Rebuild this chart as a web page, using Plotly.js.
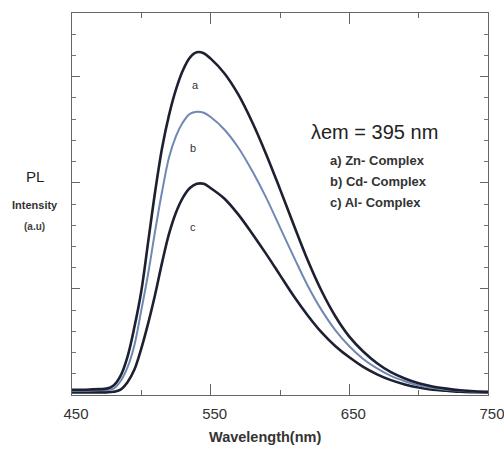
<!DOCTYPE html>
<html>
<head>
<meta charset="utf-8">
<script src="https://cdn.plot.ly/plotly-3.0.1.min.js"></script>
<style>html,body{margin:0;padding:0;background:#fff;}#chart{width:504px;height:452px;}</style>
</head>
<body>
<div id="chart"></div>
<script>
// Wavelength (nm)
var wavelength = [450, 460, 470, 475, 480, 485, 490, 495, 500, 505, 510, 515, 520, 525, 530, 535, 540, 545, 550, 560, 570, 580, 590, 600, 610, 620, 630, 640, 650, 660, 670, 680, 690, 700, 710, 720, 730, 740, 750];
// a) Zn- Complex
var znComplex = [0.05, 0.05, 0.055, 0.06, 0.09, 0.18, 0.36, 0.64, 0.98, 1.45, 1.92, 2.33, 2.64, 2.88, 3.06, 3.18, 3.23, 3.22, 3.17, 3.03, 2.83, 2.57, 2.27, 1.94, 1.60, 1.27, 0.98, 0.74, 0.55, 0.41, 0.30, 0.215, 0.155, 0.11, 0.08, 0.06, 0.045, 0.035, 0.03];
// b) Cd- Complex
var cdComplex = [0.04, 0.04, 0.045, 0.045, 0.06, 0.13, 0.26, 0.47, 0.80, 1.15, 1.55, 1.92, 2.24, 2.44, 2.57, 2.65, 2.67, 2.66, 2.62, 2.50, 2.33, 2.11, 1.86, 1.58, 1.30, 1.03, 0.80, 0.61, 0.46, 0.34, 0.25, 0.18, 0.13, 0.09, 0.065, 0.05, 0.04, 0.033, 0.03];
// c) Al- Complex
var alComplex = [0.025, 0.025, 0.025, 0.025, 0.03, 0.05, 0.12, 0.24, 0.44, 0.68, 0.95, 1.25, 1.52, 1.72, 1.86, 1.95, 1.99, 1.99, 1.95, 1.85, 1.70, 1.52, 1.33, 1.13, 0.93, 0.75, 0.59, 0.46, 0.355, 0.265, 0.195, 0.14, 0.10, 0.07, 0.05, 0.04, 0.03, 0.027, 0.025];
var curveLabels = ['a', 'b', 'c'];
var legendLines = ['a) Zn- Complex', 'b) Cd- Complex', 'c) Al- Complex'];
var xTickVals = [450, 550, 650, 750];
var xTickText = ['450', '550', '650', '750'];

var dark = '#1c2030';
var traces = [
  {x: wavelength, y: alComplex, mode: 'lines', line: {color: dark, width: 2.6, shape: 'spline', smoothing: 1}, name: legendLines[2]},
  {x: wavelength, y: cdComplex, mode: 'lines', line: {color: '#7088b4', width: 2, shape: 'spline', smoothing: 1}, name: legendLines[1]},
  {x: wavelength, y: znComplex, mode: 'lines', line: {color: dark, width: 2.6, shape: 'spline', smoothing: 1}, name: legendLines[0]}
];

var labelFont = {family: 'Liberation Sans, Arial, sans-serif', size: 11, color: '#333'};
var legendFont = {family: 'Liberation Sans, Arial, sans-serif', size: 13, color: '#333'};
var annotations = [
  {x: 538.7, y: 2.92, xref: 'x', yref: 'y', text: curveLabels[0], showarrow: false, font: labelFont},
  {x: 537.5, y: 2.33, xref: 'x', yref: 'y', text: curveLabels[1], showarrow: false, font: labelFont},
  {x: 537.5, y: 1.58, xref: 'x', yref: 'y', text: curveLabels[2], showarrow: false, font: labelFont},
  {x: 0.728, y: 0.688, xref: 'paper', yref: 'paper', xanchor: 'center', yanchor: 'middle', text: 'λem = 395 nm', showarrow: false,
   font: {family: 'Liberation Sans, Arial, sans-serif', size: 20, color: '#222'}},
  {x: 0.615, y: 0.615, xref: 'paper', yref: 'paper', xanchor: 'left', yanchor: 'middle', text: '<b>' + legendLines[0] + '</b>', showarrow: false, font: legendFont},
  {x: 0.615, y: 0.560, xref: 'paper', yref: 'paper', xanchor: 'left', yanchor: 'middle', text: '<b>' + legendLines[1] + '</b>', showarrow: false, font: legendFont},
  {x: 0.615, y: 0.503, xref: 'paper', yref: 'paper', xanchor: 'left', yanchor: 'middle', text: '<b>' + legendLines[2] + '</b>', showarrow: false, font: legendFont},
  {x: -0.089, y: 0.571, xref: 'paper', yref: 'paper', xanchor: 'center', yanchor: 'middle', text: 'PL', showarrow: false,
   font: {family: 'Liberation Sans, Arial, sans-serif', size: 15, color: '#222'}},
  {x: -0.089, y: 0.497, xref: 'paper', yref: 'paper', xanchor: 'center', yanchor: 'middle', text: '<b>Intensity</b>', showarrow: false,
   font: {family: 'Liberation Sans, Arial, sans-serif', size: 11, color: '#333'}},
  {x: -0.089, y: 0.442, xref: 'paper', yref: 'paper', xanchor: 'center', yanchor: 'middle', text: '<b>(a.u)</b>', showarrow: false,
   font: {family: 'Liberation Sans, Arial, sans-serif', size: 10, color: '#444'}},
  {x: 0.464, y: -0.110, xref: 'paper', yref: 'paper', xanchor: 'center', yanchor: 'middle', text: '<b>Wavelength(nm)</b>', showarrow: false,
   font: {family: 'Liberation Sans, Arial, sans-serif', size: 14.5, color: '#333'}}
];

var layout = {
  width: 504, height: 452,
  margin: {l: 72, r: 16, t: 13, b: 57},
  paper_bgcolor: '#fff', plot_bgcolor: '#fff',
  showlegend: false,
  xaxis: {
    range: [450, 750], tickmode: 'array', tickvals: xTickVals, ticktext: xTickText,
    ticks: 'inside', ticklen: 11, tickwidth: 1, tickcolor: '#666',
    minor: {dtick: 50, tick0: 450, ticks: 'inside', ticklen: 5, tickcolor: '#666', showgrid: false},
    showline: true, linecolor: '#666', linewidth: 1, mirror: 'ticks',
    showgrid: false, zeroline: false, ticklabelshift: 4, ticklabelstandoff: 5,
    ticklabeloverflow: 'allow',
    tickfont: {family: 'Liberation Sans, Arial, sans-serif', size: 15, color: '#333'}
  },
  yaxis: {
    range: [0, 3.6], dtick: 1, tick0: 0, showticklabels: false,
    ticks: 'inside', ticklen: 8, tickwidth: 1, tickcolor: '#666',
    minor: {dtick: 0.2, tick0: 0, ticks: 'inside', ticklen: 4, tickcolor: '#777', showgrid: false},
    showline: true, linecolor: '#666', linewidth: 1, mirror: 'ticks',
    showgrid: false, zeroline: false
  },
  annotations: annotations
};

Plotly.newPlot('chart', traces, layout, {displayModeBar: false, staticPlot: true});
</script>
</body>
</html>
